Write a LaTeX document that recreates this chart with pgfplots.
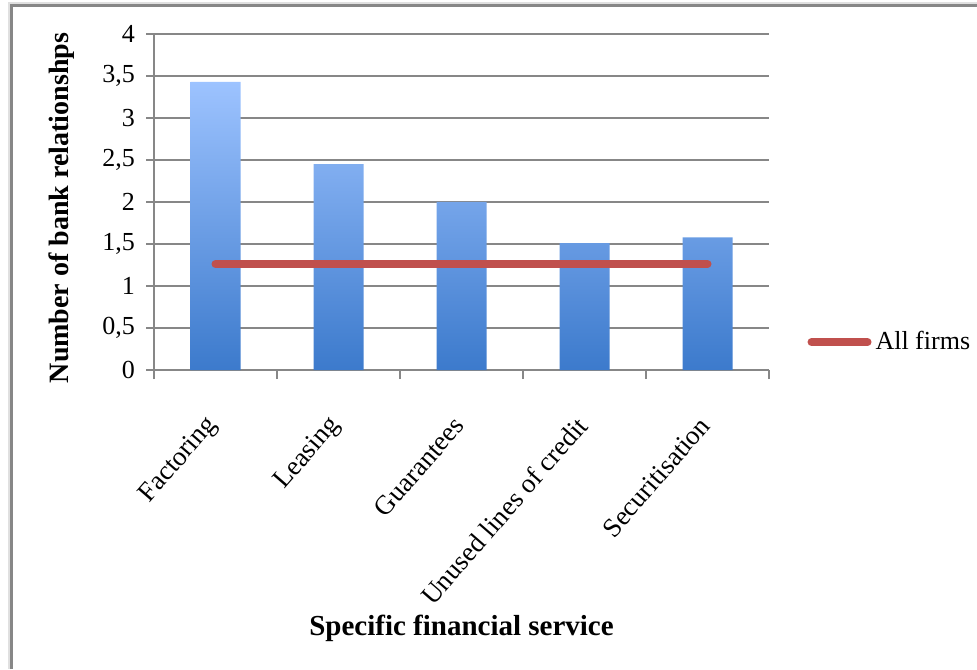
\documentclass[border=0pt]{standalone}
\usepackage{pgfplots}
\pgfplotsset{compat=1.18}
\usepackage{fontspec}
\setmainfont{Liberation Serif}
\definecolor{barTop}{HTML}{9DC3FF}
\definecolor{barBot}{HTML}{3C7ACC}
\definecolor{lineRed}{HTML}{C0504D}
\definecolor{gridGray}{HTML}{878787}
\begin{document}
\begin{tikzpicture}
\useasboundingbox (0pt,0pt) rectangle (488.5pt,334.5pt);
% outer chart frame (only top and left edges visible)
\draw[line width=2.2pt, draw=black!12] (5.2pt,0pt) -- (5.2pt,332.2pt) -- (488.5pt,332.2pt);
\draw[line width=1.5pt, draw=gridGray] (5.5pt,0pt) -- (5.5pt,331.5pt) -- (488.5pt,331.5pt);
\begin{axis}[
  at={(77pt,149.5pt)}, anchor=south west,
  scale only axis, width=307.5pt, height=168pt,
  xmin=-0.5, xmax=4.5, ymin=0, ymax=4,
  axis lines=left, axis line style={-, draw=gridGray, line width=0.8pt},
  ytick={0,0.5,...,4},
  /pgf/number format/.cd, use comma, assume math mode=true, /pgfplots/.cd,
  yticklabel style={font=\fontsize{13}{15}\selectfont, xshift=-2pt},
  ymajorgrids, grid style={draw=gridGray, line width=0.6pt},
  tick align=outside,
  major tick length=4pt,
  minor tick length=4.5pt,
  major tick style={draw=gridGray, line width=0.6pt},
  xtick={0,...,4},
  xticklabels={Factoring,Leasing,Guarantees,Unused lines of credit,Securitisation},
  major x tick style={draw=none},
  minor xtick={-0.5,0.5,...,4.5},
  minor x tick style={draw=gridGray, line width=0.6pt},
  xticklabel style={font=\fontsize{13.5}{15}\selectfont, rotate=49, anchor=east, xshift=-13.6pt, yshift=-13.2pt},
  xlabel={\textbf{Specific financial service}},
  xlabel style={font=\fontsize{14.5}{17}\selectfont, at={(axis description cs:0.5,0)}, anchor=center, yshift=-129pt},
  ylabel={\textbf{Number of bank relationshps}},
  ylabel style={font=\fontsize{14}{17}\selectfont, at={(axis description cs:0,0.5)}, anchor=center, yshift=46pt, xshift=-3pt},
  legend style={at={(axis description cs:1.062,0.083)}, anchor=west, draw=none, fill=none,
    font=\fontsize{13}{15}\selectfont, inner sep=0pt},
  legend cell align=left,
  legend image code/.code={\draw[#1] (0pt,0pt) -- (28pt,0pt);},
  clip=false,
]
\addplot[ybar, bar width=25pt, draw=none, top color=barTop, bottom color=barBot, forget plot]
  coordinates {(0,3.43) (1,2.45) (2,2.00) (3,1.51) (4,1.58)};
\addplot[draw=lineRed, line width=4pt, line cap=round, mark=none]
  coordinates {(0,1.26) (1,1.26) (2,1.26) (3,1.26) (4,1.26)};
\addlegendentry{All firms}
\end{axis}
\end{tikzpicture}
\end{document}
